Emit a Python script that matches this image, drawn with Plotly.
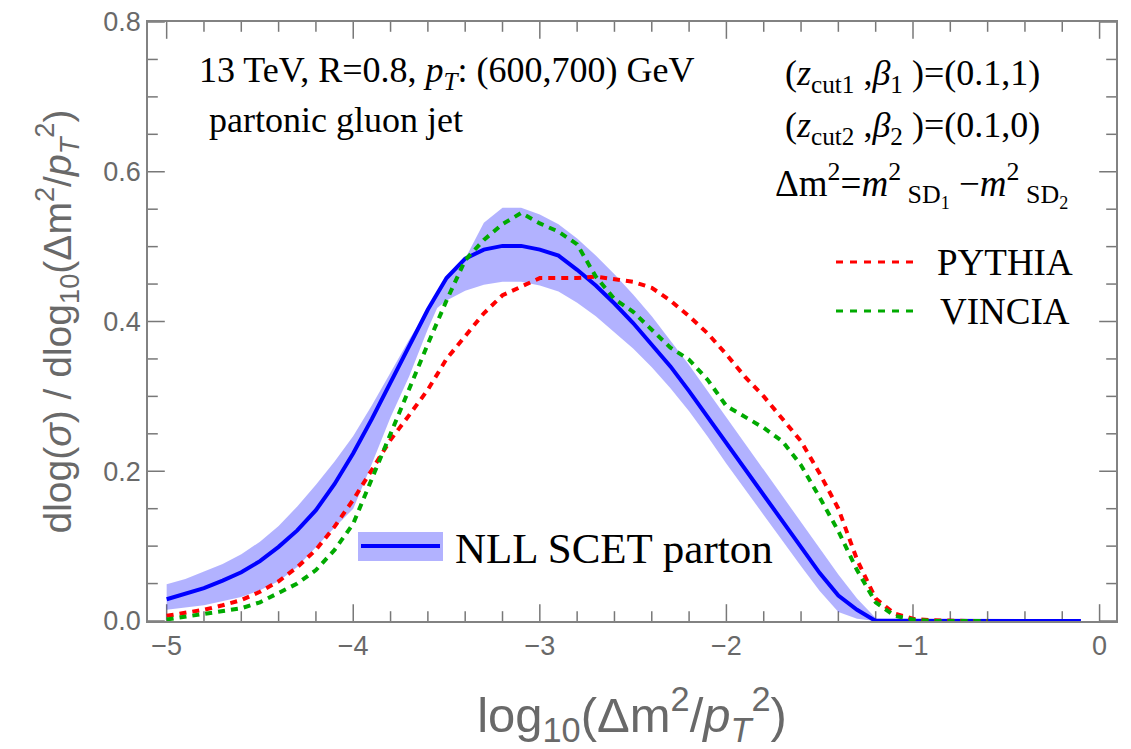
import plotly.graph_objects as go

# NLL SCET parton-level prediction (central curve)
scet_x = [-5.0, -4.9, -4.8, -4.7, -4.6, -4.5, -4.4, -4.3, -4.2, -4.1, -4.0, -3.9, -3.8, -3.7,
          -3.6, -3.5, -3.4, -3.3, -3.2, -3.1, -3.0, -2.9, -2.8, -2.7, -2.6, -2.5, -2.4, -2.3,
          -2.2, -2.1, -2.0, -1.9, -1.8, -1.7, -1.6, -1.5, -1.4, -1.3, -1.2, -1.1, -1.0, -0.9,
          -0.8, -0.7, -0.6, -0.5, -0.4, -0.3, -0.2, -0.1]
scet_y = [0.029, 0.036, 0.044, 0.054, 0.065, 0.080, 0.099, 0.121, 0.148, 0.183, 0.224, 0.270,
          0.318, 0.368, 0.416, 0.458, 0.484, 0.496, 0.501, 0.501, 0.496, 0.488, 0.469, 0.448,
          0.424, 0.398, 0.370, 0.340, 0.307, 0.272, 0.237, 0.202, 0.167, 0.132, 0.097, 0.064,
          0.034, 0.015, 0.0, 0.0, 0.0, 0.0, 0.0, 0.0, 0.0, 0.0, 0.0, 0.0, 0.0, 0.0]

# Scale-variation uncertainty band of the SCET prediction
band_x = [-5.0, -4.9, -4.8, -4.7, -4.6, -4.5, -4.4, -4.3, -4.2, -4.1, -4.0, -3.9, -3.8, -3.7,
          -3.6, -3.55, -3.5, -3.4, -3.3, -3.2, -3.1, -3.0, -2.9, -2.8, -2.7, -2.6, -2.5, -2.4,
          -2.3, -2.2, -2.1, -2.0, -1.9, -1.8, -1.7, -1.6, -1.5, -1.4, -1.3, -1.2, -0.1]
band_hi = [0.049, 0.056, 0.066, 0.076, 0.089, 0.106, 0.127, 0.153, 0.182, 0.213, 0.247, 0.288,
           0.332, 0.376, 0.416, 0.437, 0.458, 0.484, 0.532, 0.552, 0.552, 0.543, 0.530, 0.511,
           0.488, 0.463, 0.436, 0.407, 0.375, 0.342, 0.307, 0.272, 0.237, 0.201, 0.166, 0.131,
           0.097, 0.062, 0.030, 0.004, 0.002]
band_lo = [0.015, 0.018, 0.021, 0.026, 0.032, 0.041, 0.053, 0.072, 0.099, 0.125, 0.150, 0.210,
           0.272, 0.327, 0.390, 0.418, 0.428, 0.441, 0.449, 0.453, 0.453, 0.448, 0.440, 0.425,
           0.407, 0.386, 0.364, 0.339, 0.311, 0.280, 0.246, 0.210, 0.176, 0.141, 0.107, 0.073,
           0.040, 0.012, 0.003, 0.0, 0.0]

# Parton-shower results
mc_x = [-5.0, -4.9, -4.8, -4.7, -4.6, -4.5, -4.4, -4.3, -4.2, -4.1, -4.0, -3.9, -3.8, -3.7,
        -3.6, -3.5, -3.4, -3.3, -3.2, -3.1, -3.0, -2.9, -2.8, -2.7, -2.6, -2.5, -2.4, -2.3,
        -2.2, -2.1, -2.0, -1.9, -1.8, -1.7, -1.6, -1.5, -1.4, -1.3, -1.2, -1.1, -1.0, -0.9,
        -0.8, -0.7, -0.6]
pythia_y = [0.007, 0.011, 0.015, 0.021, 0.028, 0.039, 0.053, 0.072, 0.095, 0.126, 0.162, 0.202,
            0.242, 0.275, 0.309, 0.350, 0.381, 0.411, 0.435, 0.446, 0.458, 0.458, 0.458, 0.460,
            0.456, 0.453, 0.445, 0.428, 0.407, 0.384, 0.356, 0.326, 0.300, 0.270, 0.240, 0.197,
            0.150, 0.082, 0.030, 0.010, 0.003, 0.001, 0.0, 0.0, 0.0]
vincia_y = [0.002, 0.006, 0.010, 0.013, 0.017, 0.025, 0.037, 0.050, 0.068, 0.095, 0.130, 0.190,
            0.252, 0.312, 0.370, 0.428, 0.482, 0.509, 0.530, 0.545, 0.531, 0.520, 0.503, 0.460,
            0.430, 0.413, 0.389, 0.365, 0.349, 0.322, 0.287, 0.272, 0.258, 0.240, 0.208, 0.165,
            0.120, 0.068, 0.025, 0.007, 0.002, 0.0, 0.0, 0.0, 0.0]

# axis ranges and frame tick positions
X_RANGE = [-5.1, 0.088]
Y_RANGE = [0.0, 0.8]
x_major = [-5, -4, -3, -2, -1, 0]
x_minor = [-4.8, -4.6, -4.4, -4.2, -3.8, -3.6, -3.4, -3.2, -2.8, -2.6, -2.4, -2.2,
           -1.8, -1.6, -1.4, -1.2, -0.8, -0.6, -0.4, -0.2]
y_major = [0.0, 0.2, 0.4, 0.6, 0.8]
y_minor = [0.05, 0.1, 0.15, 0.25, 0.3, 0.35, 0.45, 0.5, 0.55, 0.65, 0.7, 0.75]

BLUE = "rgb(0,0,255)"
BAND = "rgba(0,0,255,0.30)"
RED = "rgb(255,0,0)"
GREEN = "rgb(0,170,0)"
AXIS_GRAY = "rgb(130,130,130)"
TICK_GRAY = "rgb(120,120,120)"
LABEL_GRAY = "rgb(105,105,105)"
SERIF = "Liberation Serif"
SANS = "Liberation Sans"

fig = go.Figure()


def frame_ticks(xs, ys, symbol, length):
    # tick marks centred on the frame; the plot clip keeps only the inner half
    fig.add_trace(go.Scatter(
        x=xs, y=ys, mode="markers", hoverinfo="skip", showlegend=False,
        marker=dict(symbol=symbol, size=2 * length, color=TICK_GRAY,
                    line=dict(width=1.5, color=TICK_GRAY))))


for yv in Y_RANGE:
    frame_ticks(x_major, [yv] * len(x_major), "line-ns", 12)
    frame_ticks(x_minor, [yv] * len(x_minor), "line-ns", 7)
for xv in X_RANGE:
    frame_ticks([xv] * len(y_major), y_major, "line-ew", 12)
    frame_ticks([xv] * len(y_minor), y_minor, "line-ew", 7)

fig.add_trace(go.Scatter(
    x=band_x + band_x[::-1], y=band_hi + band_lo[::-1],
    fill="toself", fillcolor=BAND, line=dict(width=0), mode="lines",
    hoverinfo="skip", showlegend=False))
fig.add_trace(go.Scatter(
    x=scet_x, y=scet_y, mode="lines", line=dict(color=BLUE, width=4),
    name="NLL SCET parton", showlegend=False))
fig.add_trace(go.Scatter(
    x=mc_x, y=pythia_y, mode="lines", line=dict(color=RED, width=4, dash="7px,6px"),
    name="PYTHIA", showlegend=False))
fig.add_trace(go.Scatter(
    x=mc_x, y=vincia_y, mode="lines", line=dict(color=GREEN, width=4, dash="7px,6px"),
    name="VINCIA", showlegend=False))

W, H = 1131, 749
L, R, T, B = 148, 15, 22, 128
pw, ph = W - L - R, H - T - B


def px(xp):
    return (xp - L) / pw


def py(yp):
    return (H - B - yp) / ph


annotations = [
    dict(text="13 TeV, R=0.8, <i>p<sub>T</sub></i>: (600,700) GeV",
         x=px(197), y=py(72), xanchor="left", size=36),
    dict(text="partonic gluon jet", x=px(207), y=py(120), xanchor="left", size=36),
    dict(text="(<i>z</i><sub>cut1</sub> ,<i>β</i><sub>1</sub> )=(0.1,1)",
         x=px(912), y=py(76), xanchor="center", size=36),
    dict(text="(<i>z</i><sub>cut2</sub> ,<i>β</i><sub>2</sub> )=(0.1,0)",
         x=px(912), y=py(128), xanchor="center", size=36),
    dict(text="Δm<sup>2</sup>=<i>m</i><sup>2</sup><sub> SD<sub>1</sub></sub> −<i>m</i><sup>2</sup><sub> SD<sub>2</sub></sub>",
         x=px(921), y=py(185), xanchor="center", size=37),
    dict(text="PYTHIA", x=px(1005), y=py(262), xanchor="center", size=37),
    dict(text="VINCIA", x=px(1005), y=py(311), xanchor="center", size=37),
    dict(text="NLL SCET parton", x=px(453), y=py(548), xanchor="left", size=43),
]
for a in annotations:
    fig.add_annotation(
        text=a["text"], x=a["x"], y=a["y"], xref="paper", yref="paper",
        xanchor=a["xanchor"], yanchor="middle", showarrow=False,
        font=dict(family=SERIF, size=a["size"], color="black"))

# legend keys
fig.add_shape(type="line", xref="paper", yref="paper", x0=px(836), x1=px(919),
              y0=py(262), y1=py(262), line=dict(color=RED, width=3, dash="7px,7px"))
fig.add_shape(type="line", xref="paper", yref="paper", x0=px(836), x1=px(919),
              y0=py(311), y1=py(311), line=dict(color=GREEN, width=3, dash="7px,7px"))
fig.add_shape(type="rect", xref="paper", yref="paper", x0=px(358), x1=px(443),
              y0=py(561), y1=py(532), fillcolor=BAND, line=dict(width=0))
fig.add_shape(type="line", xref="paper", yref="paper", x0=px(361), x1=px(440),
              y0=py(546), y1=py(546), line=dict(color=BLUE, width=4))

fig.update_layout(
    xaxis=dict(
        range=X_RANGE, tickmode="array", tickvals=x_major,
        showgrid=False, zeroline=False, showline=True, linecolor=AXIS_GRAY, linewidth=1.5,
        mirror=True, ticks="",
        tickfont=dict(family=SANS, size=27, color=LABEL_GRAY),
        title=dict(text="log<sub>10</sub>(Δm<sup>2</sup>/<i>p<sub>T</sub></i><sup>2</sup>)",
                   font=dict(family=SANS, size=49, color=LABEL_GRAY), standoff=52)),
    yaxis=dict(
        range=Y_RANGE, tickmode="array", tickvals=y_major, tickformat=".1f",
        showgrid=False, zeroline=False, showline=True, linecolor=AXIS_GRAY, linewidth=1.5,
        mirror=True, ticks="",
        tickfont=dict(family=SANS, size=27, color=LABEL_GRAY),
        title=dict(text="dlog(<i>σ</i>) / dlog<sub>10</sub>(Δm<sup>2</sup>/<i>p<sub>T</sub></i><sup>2</sup>)",
                   font=dict(family=SANS, size=39, color=LABEL_GRAY), standoff=20)),
    width=W, height=H, margin=dict(l=L, r=R, t=T, b=B, autoexpand=False),
    paper_bgcolor="white", plot_bgcolor="white", showlegend=False,
)

fig.write_html("out.html")
